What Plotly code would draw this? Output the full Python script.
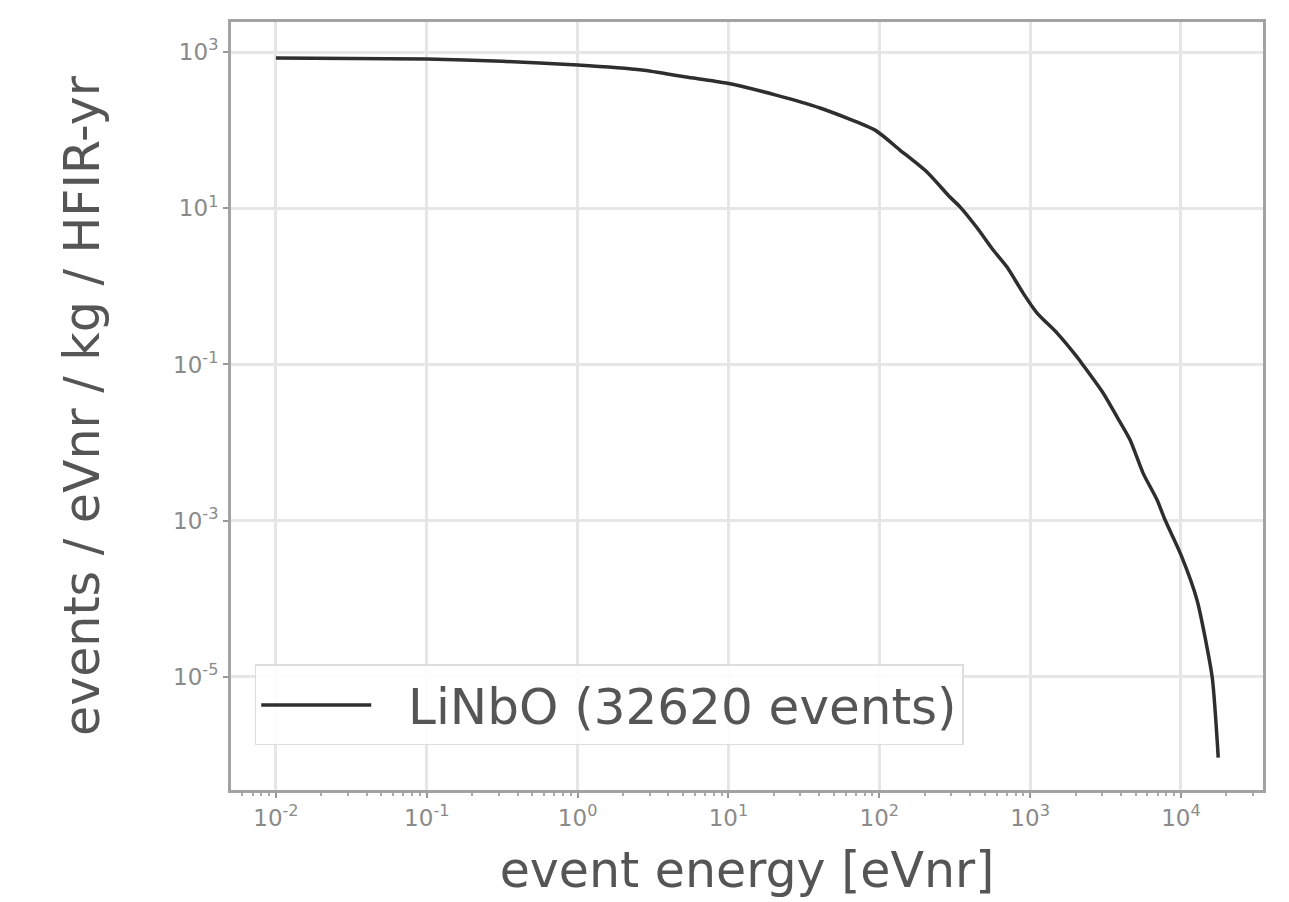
import plotly.graph_objects as go

# event energy [eVnr]
energy_ev = [0.01, 0.0316, 0.1, 0.316, 1.0, 2.67, 5.24, 9.66, 20.7, 40.5, 93.8, 137, 207, 294,
             344, 446, 569, 703, 899, 1112, 1510, 2051, 2244, 3048, 3776, 4603, 5610, 6950,
             7852, 10020, 12790, 16110, 17380, 17660]
# events / eVnr / kg / HFIR-yr
rate = [837, 828, 813, 759, 682, 589, 479, 401, 281, 192, 100, 55.6, 29.1, 13.9,
        10.35, 5.58, 2.92, 1.77, 0.82, 0.455, 0.252, 0.124, 0.0982, 0.0431, 0.0212, 0.0108,
        0.00407, 0.00184, 0.00102, 3.63e-4, 9.6e-5, 9.95e-6, 1.55e-6, 9.3e-7]

series_name = "LiNbO (32620 events)"

x_tick_vals = [1e-2, 1e-1, 1e0, 1e1, 1e2, 1e3, 1e4]
x_tick_text = ["10<sup>-2</sup>", "10<sup>-1</sup>", "10<sup>0</sup>", "10<sup>1</sup>",
               "10<sup>2</sup>", "10<sup>3</sup>", "10<sup>4</sup>"]
y_tick_vals = [1e3, 1e1, 1e-1, 1e-3, 1e-5]
y_tick_text = ["10<sup>3</sup>", "10<sup>1</sup>", "10<sup>-1</sup>", "10<sup>-3</sup>", "10<sup>-5</sup>"]

x_minor = [m * 10 ** e for e in range(-3, 5) for m in range(2, 10)]

fig = go.Figure()
fig.add_trace(go.Scatter(
    x=energy_ev, y=rate, mode="lines", name="\u00a0\u00a0" + series_name,
    line=dict(color="#2e2e2e", width=3.5, shape="spline", smoothing=0.6),
))

axis_common = dict(
    type="log", showline=True, mirror=True, linecolor="#a3a3a3", linewidth=3,
    showgrid=True, gridcolor="#e6e6e6", gridwidth=2.5, zeroline=False,
    ticks="outside", ticklen=5, tickwidth=2, tickcolor="#999999",
    tickfont=dict(family="DejaVu Sans", size=23, color="#8a8a8a"),
)

fig.update_xaxes(
    **axis_common, range=[-2.298, 4.544],
    tickmode="array", tickvals=x_tick_vals, ticktext=x_tick_text,
    minor=dict(tickmode="array", tickvals=x_minor, ticks="outside", ticklen=3,
               tickcolor="#aaaaaa", showgrid=False),
    title=dict(text="event energy [eVnr]", standoff=24,
               font=dict(family="DejaVu Sans", size=49, color="#555555")),
)
fig.update_yaxes(
    **axis_common, range=[-6.447, 3.384],
    tickmode="array", tickvals=y_tick_vals, ticktext=y_tick_text,
    title=dict(text="events / eVnr / kg / HFIR-yr", standoff=58,
               font=dict(family="DejaVu Sans", size=49, color="#555555")),
)

fig.update_layout(
    width=1289, height=902,
    margin=dict(l=231, r=26, t=22, b=112),
    paper_bgcolor="white", plot_bgcolor="white",
    showlegend=True,
    legend=dict(
        x=0.023, y=0.058, xanchor="left", yanchor="bottom",
        bgcolor="rgba(255,255,255,0.85)", bordercolor="#dddddd", borderwidth=1.5,
        font=dict(family="DejaVu Sans", size=50, color="#555555"),
        itemwidth=110,
    ),
)

fig.write_html("out.html")
